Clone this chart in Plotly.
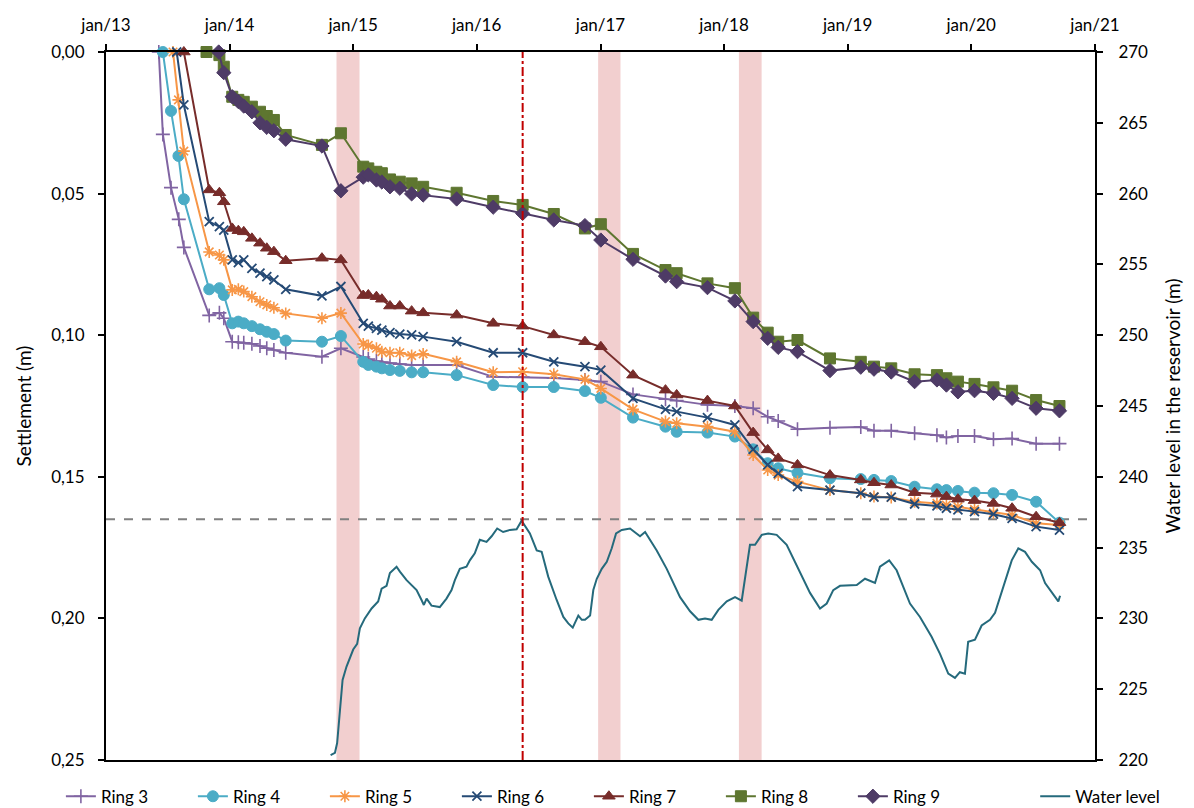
import pandas as pd
import plotly.graph_objects as go

# ---------------- data ----------------
LATE_DATES = [
    "2014-01-09", "2014-01-27", "2014-02-12", "2014-03-08", "2014-04-01", "2014-04-21", "2014-05-12",
    "2014-06-16", "2014-10-01", "2014-11-26",
    "2015-01-31", "2015-02-15", "2015-03-11", "2015-03-27", "2015-04-20", "2015-05-19", "2015-06-23",
    "2015-07-27", "2015-11-03",
    "2016-02-19", "2016-05-16", "2016-08-16", "2016-11-16",
    "2017-01-02", "2017-04-07", "2017-07-12", "2017-08-14", "2017-11-13",
    "2018-02-02", "2018-03-28", "2018-05-10", "2018-06-10", "2018-08-06", "2018-11-10",
    "2019-02-09", "2019-03-20", "2019-05-10", "2019-07-18", "2019-09-22", "2019-10-20", "2019-11-23",
    "2020-01-11", "2020-03-07", "2020-05-01", "2020-07-11", "2020-09-18",
]

ring3_early_dates = ["2013-06-06", "2013-06-18", "2013-07-12", "2013-08-04", "2013-08-19",
                     "2013-11-02", "2013-12-02", "2013-12-15"]
ring3_early = [0.0, 0.0291, 0.0479, 0.0591, 0.0690, 0.0930, 0.0921, 0.0940]
ring3_late = [0.1023, 0.1025, 0.1027, 0.1030, 0.1038, 0.1046, 0.1052, 0.1062, 0.1076, 0.1046,
              0.1077, 0.1084, 0.1091, 0.1095, 0.1098, 0.1102, 0.1105, 0.1105, 0.1105,
              0.1147, 0.1148, 0.1151, 0.1158,
              0.1164, 0.1209, 0.1226, 0.1231, 0.1246,
              0.1250, 0.1258, 0.1288, 0.1303, 0.1332, 0.1327,
              0.1324, 0.1337, 0.1337, 0.1346, 0.1353, 0.1361, 0.1356,
              0.1356, 0.1367, 0.1365, 0.1383, 0.1383]

ring4_early_dates = ["2013-06-18", "2013-07-12", "2013-08-03", "2013-08-19", "2013-11-02",
                     "2013-12-02", "2013-12-15"]
ring4_early = [0.0, 0.0208, 0.0367, 0.0520, 0.0838, 0.0834, 0.0858]
ring4_late = [0.0958, 0.0952, 0.0958, 0.0968, 0.0979, 0.0988, 0.0996, 0.1019, 0.1023, 0.1003,
              0.1094, 0.1105, 0.1111, 0.1117, 0.1123, 0.1126, 0.1131, 0.1131, 0.1141,
              0.1176, 0.1183, 0.1183, 0.1197,
              0.1221, 0.1291, 0.1323, 0.1341, 0.1344,
              0.1358, 0.1403, 0.1452, 0.1470, 0.1486, 0.1505,
              0.1508, 0.1511, 0.1515, 0.1535, 0.1544, 0.1547, 0.1550,
              0.1556, 0.1558, 0.1564, 0.1588, 0.1662]

ring5_early_dates = ["2013-07-18", "2013-08-03", "2013-08-19", "2013-11-02", "2013-12-02", "2013-12-15"]
ring5_early = [0.0, 0.0169, 0.0350, 0.0706, 0.0717, 0.0734]
ring5_late = [0.0840, 0.0838, 0.0846, 0.0864, 0.0882, 0.0893, 0.0903, 0.0923, 0.0940, 0.0922,
              0.1031, 0.1036, 0.1046, 0.1058, 0.1062, 0.1062, 0.1072, 0.1066, 0.1094,
              0.1131, 0.1129, 0.1138, 0.1156,
              0.1188, 0.1262, 0.1305, 0.1311, 0.1323,
              0.1341, 0.1423, 0.1476, 0.1494, 0.1517, 0.1547,
              0.1558, 0.1570, 0.1573, 0.1588, 0.1594, 0.1600, 0.1606,
              0.1615, 0.1627, 0.1635, 0.1664, 0.1670]

ring6_early_dates = ["2013-07-29", "2013-08-19", "2013-11-02", "2013-12-02", "2013-12-15"]
ring6_early = [0.0, 0.0187, 0.0599, 0.0617, 0.0629]
ring6_late = [0.0734, 0.0744, 0.0734, 0.0764, 0.0781, 0.0793, 0.0805, 0.0838, 0.0861, 0.0828,
              0.0958, 0.0968, 0.0976, 0.0982, 0.0991, 0.0996, 0.0999, 0.1005, 0.1023,
              0.1062, 0.1062, 0.1094, 0.1111,
              0.1123, 0.1223, 0.1262, 0.1270, 0.1291,
              0.1317, 0.1403, 0.1458, 0.1488, 0.1535, 0.1547,
              0.1558, 0.1572, 0.1572, 0.1596, 0.1603, 0.1611, 0.1617,
              0.1623, 0.1632, 0.1647, 0.1676, 0.1688]

ring7_early_dates = ["2013-08-19", "2013-11-02", "2013-12-02", "2013-12-15"]
ring7_early = [0.0, 0.0487, 0.0497, 0.0529]
ring7_late = [0.0623, 0.0631, 0.0635, 0.0658, 0.0675, 0.0693, 0.0705, 0.0737, 0.0728, 0.0734,
              0.0860, 0.0858, 0.0864, 0.0873, 0.0897, 0.0897, 0.0915, 0.0921, 0.0929,
              0.0958, 0.0968, 0.0999, 0.1023,
              0.1041, 0.1141, 0.1194, 0.1211, 0.1231,
              0.1250, 0.1344, 0.1405, 0.1435, 0.1458, 0.1494,
              0.1511, 0.1521, 0.1529, 0.1556, 0.1561, 0.1570, 0.1579,
              0.1584, 0.1594, 0.1611, 0.1641, 0.1662]

ring8_early_dates = ["2013-10-25", "2013-12-02", "2013-12-15"]
ring8_early = [0.0, 0.0011, 0.0052]
ring8_late = [0.0158, 0.0169, 0.0176, 0.0193, 0.0211, 0.0226, 0.0240, 0.0293, 0.0328, 0.0287,
              0.0405, 0.0411, 0.0423, 0.0428, 0.0450, 0.0458, 0.0464, 0.0476, 0.0497,
              0.0526, 0.0540, 0.0572, 0.0623,
              0.0608, 0.0713, 0.0770, 0.0781, 0.0817,
              0.0834, 0.0938, 0.0991, 0.1023, 0.1017, 0.1082,
              0.1094, 0.1111, 0.1117, 0.1138, 0.1141, 0.1152, 0.1164,
              0.1172, 0.1184, 0.1196, 0.1229, 0.1250]

ring9_early_dates = ["2013-11-30", "2013-12-15"]
ring9_early = [0.0, 0.0073]
ring9_late = [0.0158, 0.0175, 0.0191, 0.0211, 0.0250, 0.0266, 0.0278, 0.0308, 0.0332, 0.0490,
              0.0442, 0.0434, 0.0452, 0.0459, 0.0476, 0.0481, 0.0501, 0.0505, 0.0519,
              0.0548, 0.0570, 0.0593, 0.0613,
              0.0664, 0.0732, 0.0791, 0.0811, 0.0832,
              0.0879, 0.0952, 0.1011, 0.1043, 0.1058, 0.1125,
              0.1113, 0.1120, 0.1130, 0.1164, 0.1158, 0.1176, 0.1200,
              0.1196, 0.1205, 0.1223, 0.1258, 0.1267]

# water level: decimal year, level (m)
water_year = [2014.818, 2014.853, 2014.871, 2014.888, 2014.899, 2014.915, 2014.947, 2015.001, 2015.033,
              2015.055, 2015.095, 2015.150, 2015.203, 2015.231, 2015.271, 2015.298, 2015.352, 2015.379,
              2015.433, 2015.514, 2015.554, 2015.573, 2015.595, 2015.635, 2015.702, 2015.756, 2015.797,
              2015.824, 2015.864, 2015.918, 2015.945, 2015.985, 2016.026, 2016.080, 2016.121, 2016.166,
              2016.214, 2016.269, 2016.323, 2016.363, 2016.430, 2016.485, 2016.525, 2016.578, 2016.646,
              2016.700, 2016.740, 2016.776, 2016.821, 2016.849, 2016.875, 2016.916, 2016.942, 2016.970,
              2017.010, 2017.051, 2017.091, 2017.126, 2017.172, 2017.239, 2017.320, 2017.361, 2017.455,
              2017.536, 2017.644, 2017.725, 2017.792, 2017.846, 2017.900, 2017.954, 2018.022, 2018.089,
              2018.143, 2018.184, 2018.210, 2018.251, 2018.305, 2018.358, 2018.426, 2018.507, 2018.615,
              2018.696, 2018.777, 2018.831, 2018.884, 2018.939, 2019.074, 2019.141, 2019.222, 2019.262,
              2019.337, 2019.397, 2019.505, 2019.586, 2019.680, 2019.748, 2019.815, 2019.869, 2019.909,
              2019.950, 2019.976, 2020.031, 2020.085, 2020.152, 2020.193, 2020.233, 2020.287, 2020.328,
              2020.381, 2020.435, 2020.490, 2020.557, 2020.597, 2020.664, 2020.704, 2020.718]
water_level = [220.35, 220.5, 221.2, 222.8, 223.8, 225.65, 226.6, 227.8, 228.2,
               229.3, 230.0, 230.7, 231.2, 232.1, 232.3, 233.2, 233.65, 233.3,
               232.7, 232.0, 231.3, 230.95, 231.4, 230.9, 230.8, 231.4, 232.0,
               232.7, 233.5, 233.65, 234.1, 234.6, 235.55, 235.4, 235.8, 236.35,
               236.1, 236.25, 236.3, 236.9, 236.0, 234.8, 234.7, 232.95, 231.3,
               230.1, 229.65, 229.35, 230.2, 229.9, 229.9, 230.2, 232.0, 232.8,
               233.5, 234.0, 234.95, 236.0, 236.25, 236.35, 235.8, 236.1, 234.8,
               233.5, 231.5, 230.5, 229.9, 230.0, 229.9, 230.6, 231.2, 231.5,
               231.25, 233.65, 235.2, 235.2, 235.9, 236.0, 235.9, 235.2, 233.2,
               231.8, 230.7, 231.05, 232.0, 232.3, 232.35, 232.8, 232.5, 233.65,
               234.1, 233.4, 231.05, 230.1, 228.7, 227.5, 226.1, 225.8, 226.2,
               226.1, 228.35, 228.5, 229.5, 229.9, 230.4, 231.5, 232.95, 234.1,
               234.95, 234.7, 234.0, 233.4, 232.5, 231.65, 231.2, 231.6]

# annotations
shade_periods = [("2014-11-13", "2015-01-20"), ("2016-12-25", "2017-03-01"), ("2018-02-14", "2018-04-22")]
event_date = "2016-05-16"
max_level = 237.0

year_ticks = ["2013-01-01", "2014-01-01", "2015-01-01", "2016-01-01", "2017-01-01",
              "2018-01-01", "2019-01-01", "2020-01-01", "2021-01-01"]
year_labels = ["jan/13", "jan/14", "jan/15", "jan/16", "jan/17", "jan/18", "jan/19", "jan/20", "jan/21"]
settle_ticks = [0.0, 0.05, 0.10, 0.15, 0.20, 0.25]
settle_labels = ["0,00", "0,05", "0,10", "0,15", "0,20", "0,25"]
level_ticks = [220, 225, 230, 235, 240, 245, 250, 255, 260, 265, 270]


def dec_year_to_date(y):
    yr = int(y)
    start = pd.Timestamp(f"{yr}-01-01")
    end = pd.Timestamp(f"{yr + 1}-01-01")
    return start + (end - start) * (y - yr)


water_dates = [dec_year_to_date(y) for y in water_year]

rings = [
    ("Ring 3", ring3_early_dates, ring3_early, ring3_late, "#8064A2", "cross-thin", 10, 1.6),
    ("Ring 4", ring4_early_dates, ring4_early, ring4_late, "#4BACC6", "circle", 11, 1),
    ("Ring 5", ring5_early_dates, ring5_early, ring5_late, "#F79646", "asterisk-open", 10, 1.6),
    ("Ring 6", ring6_early_dates, ring6_early, ring6_late, "#254A75", "x-thin", 9, 1.8),
    ("Ring 7", ring7_early_dates, ring7_early, ring7_late, "#772C2A", "triangle-up", 11, 1),
    ("Ring 8", ring8_early_dates, ring8_early, ring8_late, "#5E7630", "square", 11, 1),
    ("Ring 9", ring9_early_dates, ring9_early, ring9_late, "#4E3B66", "diamond", 11, 1),
]

FONT = "Lato, 'Open Sans', sans-serif"

fig = go.Figure()

for name, ed, ev, lv, color, sym, size, lw in rings:
    fig.add_trace(go.Scatter(
        x=pd.to_datetime(ed + LATE_DATES), y=ev + lv, name=name, mode="lines+markers",
        line=dict(color=color, width=2),
        marker=dict(symbol=sym, size=size, color=color, line=dict(color=color, width=lw)),
        cliponaxis=False, yaxis="y", legend="legend",
    ))

fig.add_trace(go.Scatter(
    x=water_dates, y=water_level, name="Water level", mode="lines",
    line=dict(color="#256A7C", width=2), yaxis="y2", legend="legend2",
))

shapes = []
for a, b in shade_periods:
    shapes.append(dict(type="rect", xref="x", yref="paper", x0=a, x1=b, y0=0, y1=1,
                       fillcolor="rgba(230,160,160,0.5)", line=dict(width=0), layer="below"))
shapes.append(dict(type="line", xref="x", yref="paper", x0=event_date, x1=event_date, y0=0, y1=1,
                   line=dict(color="#C00000", width=2, dash="dashdot"), layer="above"))
shapes.append(dict(type="line", xref="paper", yref="y2", x0=0, x1=1, y0=max_level, y1=max_level,
                   line=dict(color="#808080", width=2, dash="dash"), layer="below"))

legend_common = dict(orientation="h", xref="container", yref="container",
                     xanchor="left", y=0.014, yanchor="middle",
                     font=dict(size=17), itemwidth=30, entrywidth=87, entrywidthmode="pixels",
                     bgcolor="rgba(0,0,0,0)", tracegroupgap=0)

fig.update_layout(
    width=1194, height=808,
    margin=dict(l=106, r=99, t=52, b=48, pad=0, autoexpand=False),
    paper_bgcolor="white", plot_bgcolor="white",
    font=dict(family=FONT, size=17, color="#000000"),
    shapes=shapes,
    showlegend=True,
    legend=dict(x=0.051, **legend_common),
    legend2=dict(x=0.867, **legend_common),
    xaxis=dict(
        type="date", side="top", range=["2013-01-01", "2021-01-01"],
        tickvals=year_ticks, ticktext=year_labels,
        showgrid=False, zeroline=False,
        showline=True, linecolor="black", linewidth=2, mirror=True,
        ticks="outside", ticklen=6, tickwidth=2, tickcolor="black",
        tickfont=dict(size=17), ticklabelstandoff=6,
    ),
    yaxis=dict(
        range=[0.25, 0.0], tickvals=settle_ticks, ticktext=settle_labels,
        showgrid=False, zeroline=False,
        showline=True, linecolor="black", linewidth=2,
        ticks="outside", ticklen=6, tickwidth=2, tickcolor="black",
        tickfont=dict(size=17), ticklabelstandoff=10,
        title=dict(text="Settlement (m)", font=dict(size=19), standoff=14),
    ),
    yaxis2=dict(
        range=[220, 270], tickvals=level_ticks, overlaying="y", side="right",
        showgrid=False, zeroline=False,
        showline=True, linecolor="black", linewidth=2,
        ticks="outside", ticklen=6, tickwidth=2, tickcolor="black",
        tickfont=dict(size=17), ticklabelstandoff=12,
        title=dict(text="Water level in the reservoir (m)", font=dict(size=19), standoff=20),
    ),
)

fig.write_html("out.html")
